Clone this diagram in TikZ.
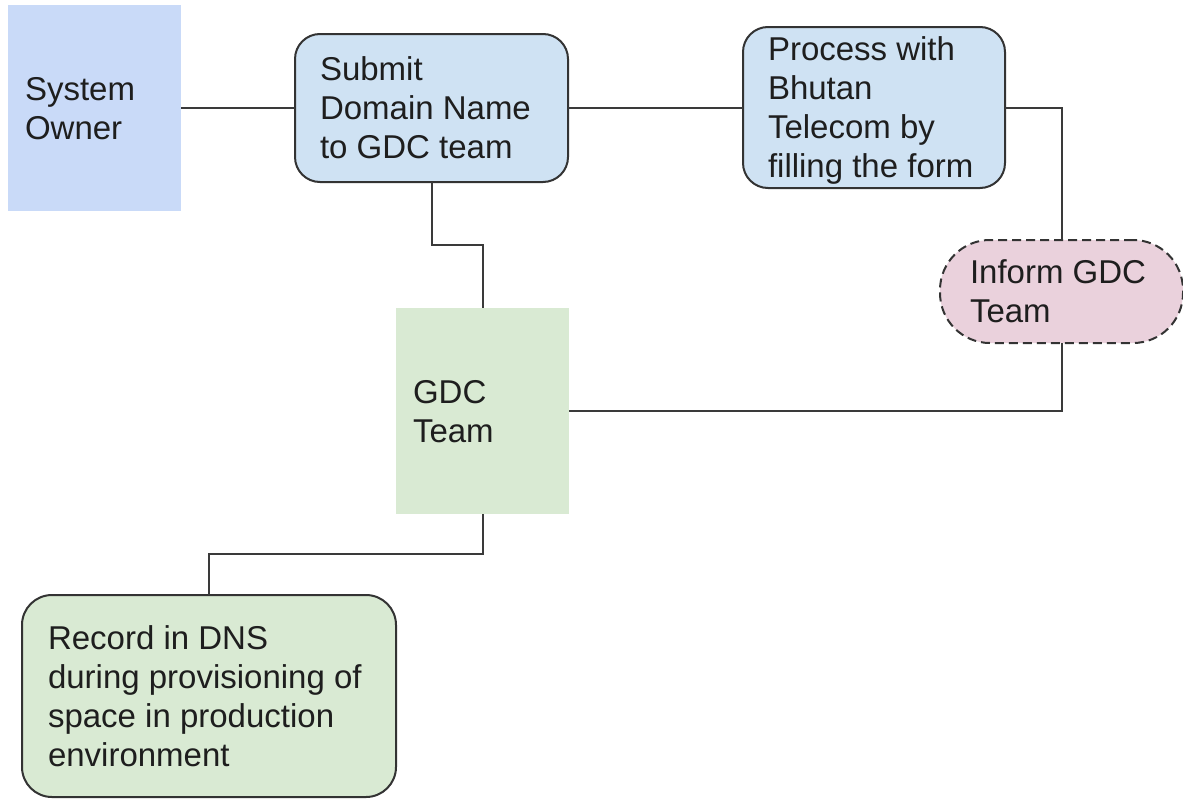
\documentclass[tikz,border=0pt]{standalone}
\usepackage{fontspec}
\setmainfont{Liberation Sans}
\definecolor{soblue}{HTML}{C9DAF8}
\definecolor{stepblue}{HTML}{CFE2F3}
\definecolor{pinkbox}{HTML}{EAD1DC}
\definecolor{greenbox}{HTML}{D9EAD3}
\definecolor{edgegray}{HTML}{333333}
\definecolor{linegray}{HTML}{3A3A3A}
\definecolor{txt}{HTML}{1E1E1E}
\newcommand{\gstrut}{\rule[-8pt]{0pt}{39pt}}
\begin{document}
\begin{tikzpicture}[x=1pt,y=-1pt,
  every node/.style={font=\fontsize{33}{39}\selectfont, text=txt, align=flush left, inner sep=0pt, outer sep=0pt},
  labelled/.style={execute at begin node={\gstrut}, execute at end node={\gstrut}},
  plainbox/.style={rectangle, draw=none, labelled},
  roundbox/.style={rectangle, draw=edgegray, line width=2pt, rounded corners=25pt, labelled},
  conn/.style={draw=linegray, line width=2pt}
]
\useasboundingbox (0,0) rectangle (1183,798);
\fill[white] (0,0) rectangle (1183,798);

\node[plainbox, fill=soblue, minimum width=173pt, minimum height=206pt, text width=139pt] (SO) at (94.5,108) {System\\Owner};
\node[roundbox, fill=stepblue, minimum width=273pt, minimum height=148pt, text width=223pt] (SUB) at (431.5,108) {Submit\\Domain Name\\to GDC team};
\node[roundbox, fill=stepblue, minimum width=262pt, minimum height=161pt, text width=212pt] (PRO) at (874,107.5) {Process with\\Bhutan\\Telecom by\\filling the form};
\node[roundbox, dash pattern=on 9pt off 5pt, rounded corners=50pt, fill=pinkbox, minimum width=243pt, minimum height=103pt, text width=183pt] (INF) at (1061.5,291.5) {Inform GDC\\Team};
\node[plainbox, fill=greenbox, minimum width=173pt, minimum height=206pt, text width=139pt] (GDC) at (482.5,411) {GDC\\Team};
\node[roundbox, rounded corners=30pt, fill=greenbox, minimum width=374pt, minimum height=202pt, text width=322pt] (REC) at (209,696) {Record in DNS\\during provisioning of\\space in production\\environment};

\coordinate (j1) at (431.5,245);
\coordinate (j2) at (482.5,554);

\draw[conn] (SO.east) -- (SO.east -| SUB.west);
\draw[conn] (SUB.east) -- (SUB.east -| PRO.west);
\draw[conn] (PRO.east) -| (INF.north);
\draw[conn] (SUB.south) -- (SUB.south |- j1) -| (GDC.north);
\draw[conn] (INF.south) |- (GDC.east);
\draw[conn] (GDC.south) -- (GDC.south |- j2) -| (REC.north);
\end{tikzpicture}
\end{document}
